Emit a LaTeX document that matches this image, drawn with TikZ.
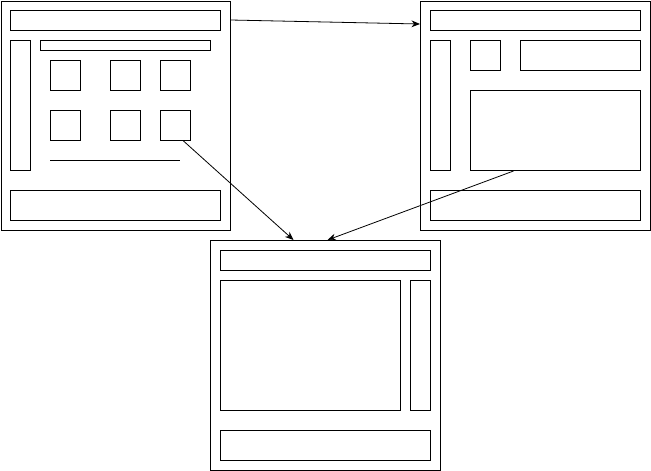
\documentclass[tikz,border=0pt]{standalone}
\usetikzlibrary{arrows.meta}

\begin{document}
\begin{tikzpicture}[
    x=1pt, y=-1pt,
    box/.style={draw, line width=1pt, inner sep=0pt, anchor=north west},
    sz/.style 2 args={minimum width=#1pt, minimum height=#2pt},
    link/.style={-{Stealth[length=3mm, width=2.4mm]}, line width=0.8pt}
]
\useasboundingbox (0,0) rectangle (651,471);

% left screen
\node[box, sz={229}{229}] (lscreen) at (0.5,0.5) {};
\node[box, sz={210}{20}] (lhead) at (10,10) {};
\node[box, sz={20}{130}] (lside) at (10,40) {};
\node[box, sz={170}{10}] (lbar) at (40,40) {};
\foreach \r [count=\i] in {60,110}
  \foreach \c [count=\j] in {50,110,160}
    \node[box, sz={30}{30}] (tile\i\j) at (\c,\r) {};
\coordinate (rulestart) at (50,160);
\coordinate (ruleend) at (180,160);
\draw[line width=1pt] (rulestart) -- (ruleend);
\node[box, sz={210}{30}] (lfoot) at (10,190) {};

% right screen
\node[box, sz={230}{229}] (rscreen) at (420,0.5) {};
\node[box, sz={210}{20}] (rhead) at (430,10) {};
\node[box, sz={20}{130}] (rside) at (430,40) {};
\node[box, sz={30}{30}] (rthumb) at (470,40) {};
\node[box, sz={120}{30}] (rtitle) at (520,40) {};
\node[box, sz={170}{80}] (rmain) at (470,90) {};
\node[box, sz={210}{30}] (rfoot) at (430,190) {};

% bottom screen
\node[box, sz={230}{230}] (bscreen) at (210,240) {};
\node[box, sz={210}{20}] (bhead) at (220,250) {};
\node[box, sz={180}{130}] (bmain) at (220,280) {};
\node[box, sz={20}{130}] (bside) at (410,280) {};
\node[box, sz={210}{30}] (bfoot) at (220,430) {};

% flows
\draw[link] ([yshift=-19.5pt]lscreen.north east) -- ([yshift=-23.5pt]rscreen.north west);
\draw[link] ([xshift=8pt]tile23.south) -- ([xshift=-32pt]bscreen.north);
\draw[link] ([xshift=-42pt]rmain.south) -- ([xshift=2pt]bscreen.north);
\end{tikzpicture}
\end{document}
